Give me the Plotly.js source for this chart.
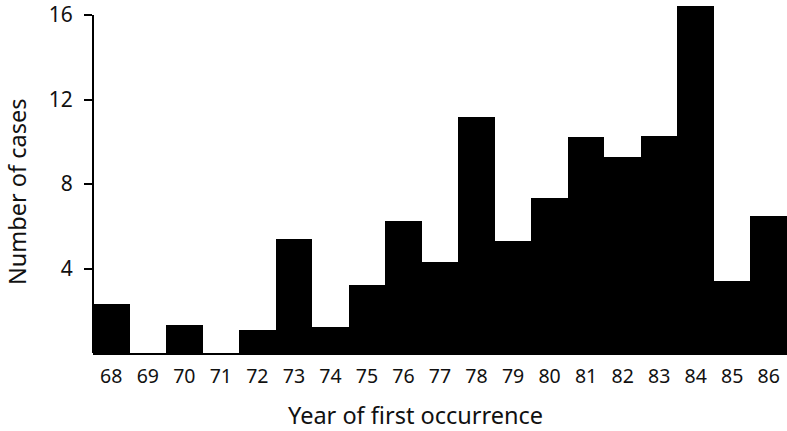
<!DOCTYPE html>
<html>
<head>
<meta charset="utf-8">
<script src="https://cdn.plot.ly/plotly-3.0.1.min.js"></script>
<style>
  html, body { margin: 0; padding: 0; background: #ffffff; }
  #chart { width: 787px; height: 431px; }
</style>
</head>
<body>
<div id="chart"></div>
<script>
// Year of first occurrence (two-digit years) and number of cases
const years = [68, 69, 70, 71, 72, 73, 74, 75, 76, 77, 78, 79, 80, 81, 82, 83, 84, 85, 86];
const cases = [2.3, 0, 1.33, 0, 1.08, 5.39, 1.21, 3.21, 6.26, 4.29, 11.19, 5.32, 7.32, 10.24, 9.26, 10.26, 16.42, 3.42, 6.47];
const yTicks = [4, 8, 12, 16];
const yAxisTop = 16;

const FONT = '"Noto Sans", "DejaVu Sans", sans-serif';

const trace = {
  type: 'bar',
  x: years,
  y: cases,
  marker: { color: '#000000', line: { width: 0 } },
  hoverinfo: 'skip'
};

const layout = {
  width: 787,
  height: 431,
  margin: { l: 93, r: 0, t: 0, b: 78, pad: 0 },
  paper_bgcolor: '#ffffff',
  plot_bgcolor: '#ffffff',
  showlegend: false,
  bargap: 0,
  font: { family: FONT, color: '#111111' },
  xaxis: {
    range: [67.5, 86.5],
    tickmode: 'array',
    tickvals: years,
    ticktext: years.map(String),
    ticks: '',
    ticklabelstandoff: 5,
    tickfont: { family: FONT, size: 19.5, color: '#111111' },
    showgrid: false,
    zeroline: false,
    showline: true,
    linecolor: '#000000',
    linewidth: 2
  },
  yaxis: {
    range: [0, 16.71],
    tickmode: 'array',
    tickvals: yTicks,
    ticktext: yTicks.map(String),
    ticks: 'outside',
    ticklen: 8,
    tickwidth: 2,
    tickcolor: '#000000',
    ticklabelstandoff: 7,
    tickfont: { family: FONT, size: 21, color: '#111111' },
    showgrid: false,
    zeroline: false,
    showline: false
  },
  shapes: [
    {
      type: 'line',
      xref: 'paper', yref: 'y',
      x0: 0, x1: 0, y0: 0, y1: yAxisTop,
      line: { color: '#000000', width: 2 }
    }
  ],
  annotations: [
    {
      text: 'Year of first occurrence',
      xref: 'paper', yref: 'paper',
      x: 0.4654, y: -0.1756,
      xanchor: 'center', yanchor: 'middle',
      showarrow: false,
      font: { family: FONT, size: 23.5, color: '#111111' }
    },
    {
      text: 'Number of cases',
      xref: 'paper', yref: 'paper',
      x: -0.1095, y: 0.456,
      xanchor: 'center', yanchor: 'middle',
      textangle: -90,
      showarrow: false,
      font: { family: FONT, size: 23.5, color: '#111111' }
    }
  ]
};

Plotly.newPlot('chart', [trace], layout, { displayModeBar: false, staticPlot: true });
</script>
</body>
</html>
